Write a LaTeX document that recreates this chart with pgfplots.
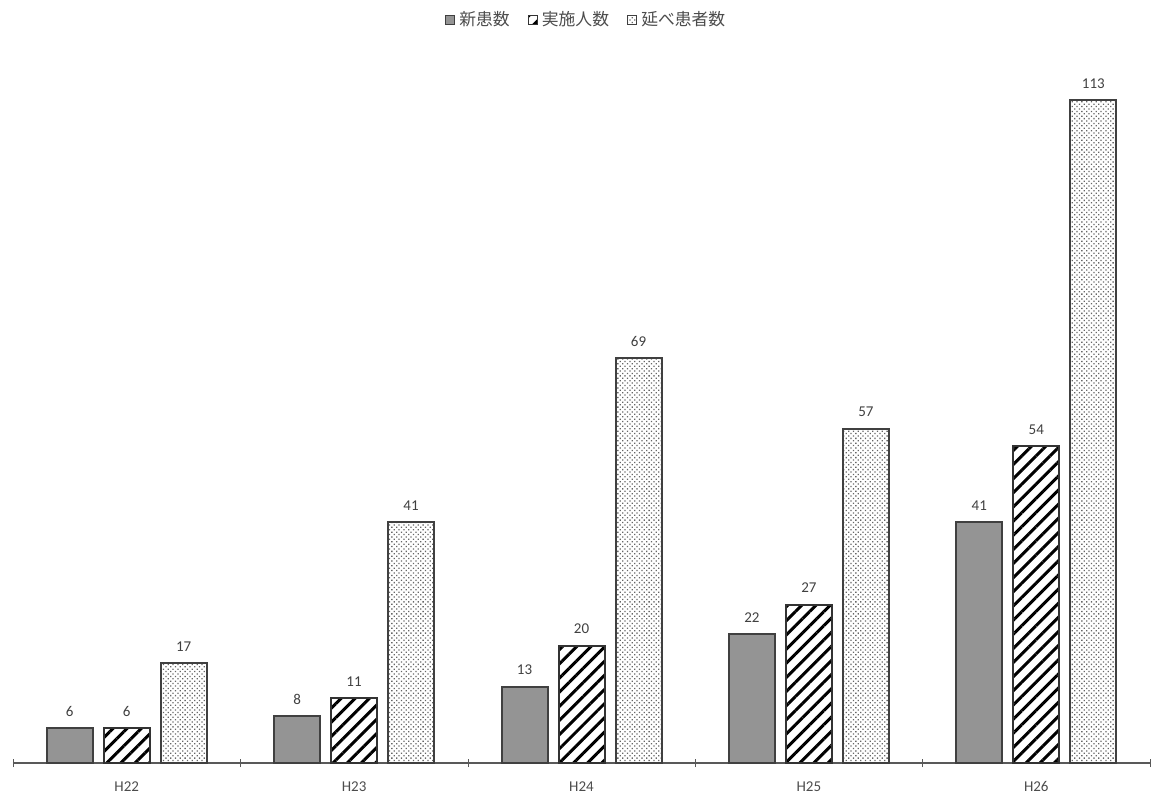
\documentclass[border=0pt]{standalone}
\usepackage{pgfplots}
\pgfplotsset{compat=1.18}
\usetikzlibrary{patterns.meta}
\usepackage{fontspec}
\setmainfont{Carlito}
\newfontfamily\cjk{Noto Sans CJK JP}
\begin{document}
\begin{tikzpicture}
\path[use as bounding box] (-6.5pt,-18pt) rectangle (569pt,381.5pt);
\begin{axis}[
    scale only axis,
    width=568.5pt, height=352pt,
    ymin=0, ymax=120,
    xmin=-0.5, xmax=4.5,
    axis x line*=bottom,
    axis y line=none,
    axis line style={black!65, line width=0.7pt},
    ybar=5.5pt,
    bar width=23pt,
    xtick={0,1,2,3,4},
    xticklabels={H22,H23,H24,H25,H26},
    major tick length=0pt,
    extra x ticks={-0.5,0.5,1.5,2.5,3.5,4.5},
    extra x tick labels={},
    extra x tick style={major tick length=4pt, tick align=center, tick style={black!65}},
    xticklabel style={font=\fontsize{7.5}{8}\selectfont, text=black!70, yshift=-5pt,
        text height=5.5pt, text depth=1pt},
    /pgf/number format/assume math mode=true,
    nodes near coords,
    every node near coord/.append style={font=\fontsize{7.5}{8}\selectfont, text=black!75, yshift=2pt},
    legend style={draw=none, fill=none, at={(0.505,1.055)}, anchor=center,
        font=\cjk\fontsize{8.4}{9}\selectfont, text=black!70,
        /tikz/every even column/.append style={column sep=7pt}},
    legend columns=-1,
    legend image code/.code={\draw[#1, line width=0.6pt] (0pt,-2pt) rectangle (4.5pt,2.5pt);},
]
\addplot[fill=black!42, draw=black!75, line width=1pt]
    coordinates {(0,6) (1,8) (2,13) (3,22) (4,41)};
\addplot[pattern={Lines[angle=45,distance=5pt,line width=1.5pt]}, pattern color=black, draw=black!80, line width=1pt]
    coordinates {(0,6) (1,11) (2,20) (3,27) (4,54)};
\addplot[pattern={Dots[radius=0.45pt,distance=1.7pt,angle=45]}, pattern color=black!60, draw=black!75, line width=1pt]
    coordinates {(0,17) (1,41) (2,69) (3,57) (4,113)};
\legend{新患数, 実施人数, 延べ患者数}
\end{axis}
\end{tikzpicture}
\end{document}
